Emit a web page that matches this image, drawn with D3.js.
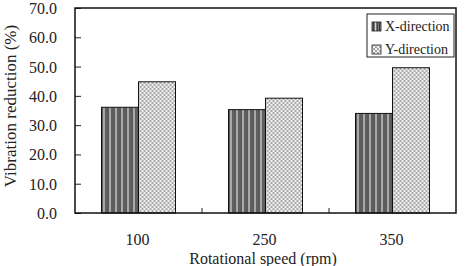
<!DOCTYPE html>
<html>
<head>
<meta charset="utf-8">
<script src="https://cdn.jsdelivr.net/npm/d3@7"></script>
</head>
<body style="margin:0">
<svg id="chart" width="466" height="266" style="display:block"></svg>
<script>
// data
const speeds = ['100', '250', '350']
const seriesNames = ['X-direction', 'Y-direction']
const xValues = [36.1, 35.3, 34.0]
const yValues = [44.8, 39.2, 49.6]
const yTicks = [0, 10, 20, 30, 40, 50, 60, 70]

const FONT = '"Liberation Serif"'

const svg = d3.select('#chart')
const margin = { left: 75, right: 10, top: 8, bottom: 53 }
const width = 466 - margin.left - margin.right
const height = 266 - margin.top - margin.bottom

// fill patterns
const defs = svg.append('defs')
const stripes = defs.append('pattern')
  .attr('id', 'pat-x')
  .attr('patternUnits', 'userSpaceOnUse')
  .attr('width', 6).attr('height', 6)
stripes.append('rect').attr('width', 6).attr('height', 6).attr('fill', '#7a7a7a')
stripes.append('rect').attr('x', 0).attr('width', 1).attr('height', 6).attr('fill', '#3c3c3c')
stripes.append('rect').attr('x', 2).attr('width', 1).attr('height', 6).attr('fill', '#d8d8d8')
stripes.append('rect').attr('x', 4).attr('width', 1).attr('height', 6).attr('fill', '#444')

const checks = defs.append('pattern')
  .attr('id', 'pat-y')
  .attr('patternUnits', 'userSpaceOnUse')
  .attr('width', 4).attr('height', 4)
checks.append('rect').attr('width', 4).attr('height', 4).attr('fill', '#f2f2f2')
checks.append('rect').attr('width', 2).attr('height', 2).attr('fill', '#a8a8a8')
checks.append('rect').attr('x', 2).attr('y', 2).attr('width', 2).attr('height', 2).attr('fill', '#a8a8a8')

const fills = ['url(#pat-x)', 'url(#pat-y)']

const g = svg.append('g')
  .attr('transform', 'translate(' + margin.left + ',' + margin.top + ')')

const xScale = d3.scaleBand().domain(speeds).range([0, width])
const xInner = d3.scaleBand().domain(seriesNames)
  .range([0, 74]) // pair of bars
const yScale = d3.scaleLinear().domain([0, 70]).range([height, 0])

const rows = speeds.map((s, i) => ({ speed: s, vals: [xValues[i], yValues[i]] }))

// bars
const groups = g.selectAll('.grp')
  .data(rows)
  .enter().append('g')
  .attr('transform', d => 'translate(' + (xScale(d.speed) + (xScale.bandwidth() - 74) / 2) + ',0)')

groups.selectAll('rect')
  .data(d => d.vals.map((v, k) => ({ name: seriesNames[k], v: v, k: k })))
  .enter().append('rect')
  .attr('x', d => xInner(d.name))
  .attr('width', xInner.bandwidth())
  .attr('y', d => yScale(d.v))
  .attr('height', d => height - yScale(d.v))
  .attr('fill', d => fills[d.k])
  .attr('stroke', '#111')
  .attr('stroke-width', 1)

// y axis, ticks pointing inwards; labels drawn by hand
const yAxis = d3.axisRight(yScale).tickValues(yTicks).tickSize(6).tickFormat('')
const yg = g.append('g').call(yAxis)
yg.select('.domain').remove()
yg.selectAll('line').attr('stroke', '#222')

g.selectAll('.ylabel')
  .data(yTicks)
  .enter().append('text')
  .attr('x', -18)
  .attr('y', d => yScale(d) + 6)
  .attr('text-anchor', 'end')
  .style('font-family', FONT)
  .attr('font-size', 16)
  .attr('fill', '#222')
  .text(d => d3.format('.1f')(d))

// category boundary ticks on the x axis
g.selectAll('.xtick')
  .data(speeds.slice(1))
  .enter().append('line')
  .attr('x1', d => xScale(d)).attr('x2', d => xScale(d))
  .attr('y1', height).attr('y2', height - 5)
  .attr('stroke', '#222')

g.selectAll('.xlabel')
  .data(speeds)
  .enter().append('text')
  .attr('x', d => xScale(d) + xScale.bandwidth() / 2 - 1)
  .attr('y', height + 32)
  .attr('text-anchor', 'middle')
  .style('font-family', FONT)
  .attr('font-size', 16)
  .attr('fill', '#222')
  .text(d => d)

// plot frame
g.append('rect')
  .attr('width', width).attr('height', height)
  .attr('fill', 'none')
  .attr('stroke', '#111')
  .attr('stroke-width', 1.5)

// axis titles
svg.append('text')
  .attr('x', 263)
  .attr('y', 264)
  .attr('text-anchor', 'middle')
  .style('font-family', FONT)
  .attr('font-size', 16)
  .attr('fill', '#222')
  .text('Rotational speed (rpm)')

svg.append('text')
  .attr('transform', 'translate(16,' + (margin.top + 98) + ') rotate(-90)')
  .attr('text-anchor', 'middle')
  .style('font-family', FONT)
  .attr('font-size', 17)
  .attr('fill', '#222')
  .text('Vibration reduction (%)')

// legend
const leg = svg.append('g').attr('transform', 'translate(367,14)')
leg.append('rect')
  .attr('width', 87).attr('height', 43)
  .attr('fill', '#fff')
  .attr('stroke', '#222')
  .attr('stroke-width', 1)
seriesNames.forEach((name, i) => {
  leg.append('rect')
    .attr('x', 5).attr('y', 8 + i * 23)
    .attr('width', 9).attr('height', 9)
    .attr('fill', fills[i])
    .attr('stroke', '#222')
    .attr('stroke-width', 0.8)
  leg.append('text')
    .attr('x', 18).attr('y', 17 + i * 23)
    .style('font-family', FONT)
    .attr('font-size', 14)
    .attr('fill', '#222')
    .text(name)
})
</script>
</body>
</html>
